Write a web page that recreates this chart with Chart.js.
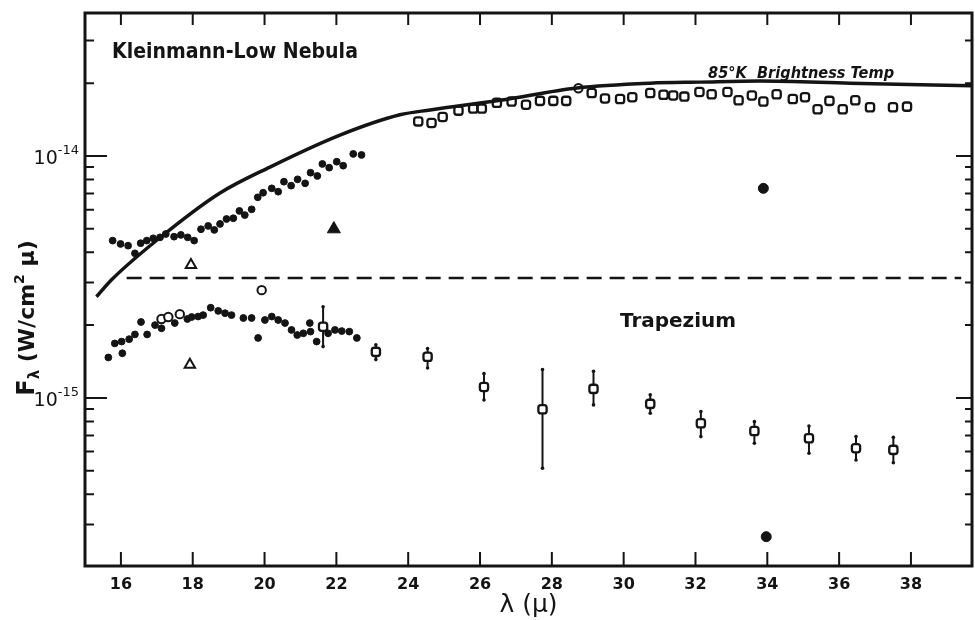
<!DOCTYPE html>
<html>
<head>
<meta charset="utf-8">
<script src="https://cdn.jsdelivr.net/npm/chart.js@4.4.1/dist/chart.umd.min.js"></script>
<style>
  html, body { margin: 0; padding: 0; background: #fff; }
</style>
</head>
<body>
<canvas id="sed" width="975" height="620"></canvas>
<script>
// ===== values (x: wavelength in microns, y: W/cm^2/micron) =====
const xTickValues = [16, 18, 20, 22, 24, 26, 28, 30, 32, 34, 36, 38];
const yMajorTicks = [1e-14, 1e-15];
const yTickExponents = ['-14', '-15'];
const yMinorTicks = [3e-14, 2e-14, 9e-15, 8e-15, 7e-15, 6e-15, 5e-15, 4e-15, 3e-15, 2e-15,
  9e-16, 8e-16, 7e-16, 6e-16, 5e-16, 4e-16, 3e-16];

// 85 K brightness temperature curve
const bbCurve = [[15.32, 2.62e-15], [15.74, 3.08e-15], [17.36, 4.95e-15], [18.76, 7.03e-15],
  [20.15, 9.0e-15], [22.1, 1.22e-14], [23.77, 1.48e-14], [24.61, 1.55e-14], [26.56, 1.7e-14],
  [28.7, 1.91e-14], [30.74, 2.0e-14], [32.13, 2.02e-14], [33.8, 2.04e-14], [36.3, 2.0e-14],
  [39.7, 1.95e-14]];

// dashed level
const dashLevel = [[16.16, 3.13e-15], [39.4, 3.13e-15]];

// Kleinmann-Low, filled dots (short wavelengths)
const klDots = [[15.77, 4.47e-15], [15.99, 4.33e-15], [16.2, 4.26e-15], [16.39, 3.96e-15],
  [16.55, 4.36e-15], [16.72, 4.47e-15], [16.9, 4.57e-15], [17.09, 4.61e-15], [17.25, 4.76e-15],
  [17.48, 4.64e-15], [17.67, 4.72e-15], [17.86, 4.61e-15], [18.04, 4.47e-15], [18.23, 4.98e-15],
  [18.43, 5.14e-15], [18.6, 4.95e-15], [18.76, 5.24e-15], [18.94, 5.49e-15], [19.13, 5.53e-15],
  [19.3, 5.93e-15], [19.45, 5.7e-15], [19.64, 6.02e-15], [19.81, 6.75e-15], [19.96, 7.05e-15],
  [20.2, 7.35e-15], [20.38, 7.12e-15], [20.54, 7.83e-15], [20.74, 7.54e-15], [20.92, 8.01e-15],
  [21.13, 7.71e-15], [21.28, 8.53e-15], [21.47, 8.27e-15], [21.61, 9.27e-15], [21.8, 8.95e-15],
  [22.01, 9.47e-15], [22.19, 9.12e-15], [22.47, 1.02e-14], [22.7, 1.01e-14]];

// Kleinmann-Low, open squares (long wavelengths)
const klSquares = [[24.28, 1.39e-14], [24.65, 1.37e-14], [24.96, 1.45e-14], [25.4, 1.54e-14],
  [25.81, 1.57e-14], [26.05, 1.57e-14], [26.47, 1.66e-14], [26.88, 1.68e-14], [27.28, 1.63e-14],
  [27.67, 1.69e-14], [28.04, 1.69e-14], [28.4, 1.69e-14], [29.11, 1.82e-14], [29.48, 1.73e-14],
  [29.9, 1.72e-14], [30.24, 1.75e-14], [30.74, 1.82e-14], [31.11, 1.79e-14], [31.38, 1.78e-14],
  [31.69, 1.76e-14], [32.11, 1.84e-14], [32.45, 1.8e-14], [32.89, 1.84e-14], [33.2, 1.7e-14],
  [33.57, 1.78e-14], [33.89, 1.68e-14], [34.26, 1.8e-14], [34.71, 1.72e-14], [35.05, 1.75e-14],
  [35.4, 1.56e-14], [35.73, 1.69e-14], [36.1, 1.56e-14], [36.45, 1.7e-14], [36.86, 1.59e-14],
  [37.5, 1.59e-14], [37.89, 1.6e-14]];

// Trapezium, filled dots
const trapDots = [[15.65, 1.47e-15], [15.83, 1.68e-15], [16.02, 1.71e-15], [16.04, 1.53e-15],
  [16.23, 1.75e-15], [16.39, 1.83e-15], [16.56, 2.06e-15], [16.73, 1.83e-15], [16.95, 2.0e-15],
  [17.13, 1.94e-15], [17.5, 2.04e-15], [17.85, 2.12e-15], [17.97, 2.16e-15], [18.15, 2.17e-15],
  [18.29, 2.2e-15], [18.5, 2.36e-15], [18.71, 2.29e-15], [18.9, 2.24e-15], [19.08, 2.2e-15],
  [19.41, 2.14e-15], [19.64, 2.14e-15], [19.82, 1.77e-15], [20.01, 2.1e-15], [20.2, 2.17e-15],
  [20.38, 2.1e-15], [20.57, 2.04e-15], [20.75, 1.91e-15], [20.91, 1.82e-15], [21.08, 1.85e-15],
  [21.26, 2.04e-15], [21.28, 1.88e-15], [21.45, 1.71e-15], [21.77, 1.85e-15], [21.96, 1.91e-15],
  [22.15, 1.89e-15], [22.36, 1.88e-15], [22.57, 1.77e-15]];

// Trapezium, open squares with error bars
const trapSquares = [[21.63, 1.97e-15], [23.1, 1.55e-15], [24.54, 1.48e-15], [26.11, 1.11e-15],
  [27.74, 8.98e-16], [29.16, 1.09e-15], [30.74, 9.45e-16], [32.15, 7.86e-16], [33.64, 7.3e-16],
  [35.16, 6.81e-16], [36.47, 6.2e-16], [37.51, 6.1e-16]];
const trapErrHigh = [2.38e-15, 1.66e-15, 1.6e-15, 1.26e-15, 1.31e-15, 1.29e-15, 1.03e-15,
  8.78e-16, 7.98e-16, 7.66e-16, 6.92e-16, 6.88e-16];
const trapErrLow = [1.63e-15, 1.44e-15, 1.33e-15, 9.81e-16, 5.12e-16, 9.36e-16, 8.65e-16,
  6.92e-16, 6.5e-16, 5.91e-16, 5.54e-16, 5.4e-16];

// single points
const openCircles = [[17.13, 2.12e-15], [17.32, 2.16e-15], [17.64, 2.22e-15], [19.92, 2.79e-15], [28.74, 1.905e-14]];
const openTriangles = [[17.95, 3.54e-15], [17.92, 1.37e-15]];
const filledTriangles = [[21.93, 4.99e-15]];
const filledCircles = [[33.89, 7.35e-15], [33.97, 2.67e-16]];

// ===== drawing =====
const INK = '#141414';
const FONT = '"DejaVu Sans", sans-serif';

const toXY = arr => arr.map(p => ({ x: p[0], y: p[1] }));

function pointSet(data, style, radius, filled, border) {
  return {
    data: toXY(data),
    showLine: false,
    pointStyle: style,
    pointRadius: radius,
    pointBorderWidth: border,
    pointBorderColor: INK,
    pointBackgroundColor: filled ? INK : '#fff',
  };
}

// draws a run of text pieces (sub/superscripts), centred or right-aligned on x
function drawRich(ctx, parts, x, y, align) {
  let total = 0;
  parts.forEach(p => {
    ctx.font = p.font;
    p.w = ctx.measureText(p.t).width;
    total += p.w;
  });
  let cx = align === 'right' ? x - total : x - total / 2;
  parts.forEach(p => {
    ctx.font = p.font;
    ctx.fillText(p.t, cx, y + (p.dy || 0));
    cx += p.w;
  });
}

const framePlugin = {
  id: 'frame',
  beforeDatasetsDraw(chart) {
    const { ctx, scales: { x, y } } = chart;
    ctx.save();
    ctx.strokeStyle = INK;
    ctx.fillStyle = INK;
    ctx.lineWidth = 2;
    trapSquares.forEach((p, i) => {
      const px = x.getPixelForValue(p[0]);
      const y1 = y.getPixelForValue(trapErrHigh[i]);
      const y2 = y.getPixelForValue(trapErrLow[i]);
      ctx.beginPath();
      ctx.moveTo(px, y1);
      ctx.lineTo(px, y2);
      ctx.stroke();
      [y1, y2].forEach(yy => {
        ctx.beginPath();
        ctx.arc(px, yy, 1.8, 0, Math.PI * 2);
        ctx.fill();
      });
    });
    ctx.restore();
  },
  afterDatasetsDraw(chart) {
    const { ctx, chartArea: a, scales: { x, y } } = chart;
    ctx.save();
    ctx.strokeStyle = INK;
    ctx.fillStyle = INK;

    // frame
    ctx.lineWidth = 3;
    ctx.strokeRect(a.left, a.top, a.right - a.left, a.bottom - a.top);

    // inward ticks
    ctx.lineWidth = 2;
    ctx.beginPath();
    xTickValues.forEach(v => {
      const px = x.getPixelForValue(v);
      ctx.moveTo(px, a.bottom); ctx.lineTo(px, a.bottom - 14);
      ctx.moveTo(px, a.top); ctx.lineTo(px, a.top + 12);
    });
    yMajorTicks.forEach(v => {
      const py = y.getPixelForValue(v);
      ctx.moveTo(a.left, py); ctx.lineTo(a.left + 22, py);
      ctx.moveTo(a.right, py); ctx.lineTo(a.right - 16, py);
    });
    yMinorTicks.forEach(v => {
      const py = y.getPixelForValue(v);
      ctx.moveTo(a.left, py); ctx.lineTo(a.left + 9, py);
      ctx.moveTo(a.right, py); ctx.lineTo(a.right - 7, py);
    });
    ctx.stroke();

    // y tick labels: 10 with a raised exponent
    ctx.textBaseline = 'alphabetic';
    ctx.textAlign = 'left';
    yMajorTicks.forEach((v, i) => {
      const py = y.getPixelForValue(v);
      drawRich(ctx, [
        { t: '10', font: '19px ' + FONT },
        { t: yTickExponents[i], font: '13px ' + FONT, dy: -10 },
      ], a.left - 6, py + 8, 'right');
    });

    // annotations
    ctx.font = 'bold 22px ' + FONT;
    ctx.fillText('Kleinmann-Low Nebula', x.getPixelForValue(15.75), y.getPixelForValue(2.54e-14), 246);
    ctx.font = 'bold 20px ' + FONT;
    ctx.fillText('Trapezium', x.getPixelForValue(29.9), y.getPixelForValue(1.965e-15), 116);
    ctx.font = 'italic bold 16px ' + FONT;
    ctx.fillText('85\u00B0K  Brightness Temp', x.getPixelForValue(32.35), y.getPixelForValue(2.1e-14), 186);

    // y-axis title, reading upward
    ctx.translate(34, 318);
    ctx.rotate(-Math.PI / 2);
    drawRich(ctx, [
      { t: 'F', font: 'bold 24px ' + FONT },
      { t: '\u03BB', font: 'bold 15px ' + FONT, dy: 5 },
      { t: ' (W/cm', font: 'bold 22px ' + FONT },
      { t: '2', font: 'bold 14px ' + FONT, dy: -10 },
      { t: ' \u03BC)', font: 'bold 22px ' + FONT },
    ], 0, 0);
    ctx.restore();
  }
};

new Chart(document.getElementById('sed'), {
  type: 'scatter',
  data: {
    datasets: [
      {
        data: toXY(bbCurve), showLine: true, pointRadius: 0, borderColor: INK,
        borderWidth: 3.5, cubicInterpolationMode: 'monotone',
      },
      {
        data: toXY(dashLevel), showLine: true, pointRadius: 0, borderColor: INK,
        borderWidth: 2.5, borderDash: [15, 8],
      },
      pointSet(klDots, 'circle', 3.4, true, 1),
      pointSet(trapDots, 'circle', 3.4, true, 1),
      pointSet(klSquares, 'rectRounded', 4.8, false, 2.3),
      pointSet(trapSquares, 'rectRounded', 4.8, false, 2.3),
      pointSet(openCircles, 'circle', 4.2, false, 2),
      pointSet(openTriangles, 'triangle', 6, false, 2),
      pointSet(filledTriangles, 'triangle', 7.5, true, 1),
      pointSet(filledCircles, 'circle', 5, true, 1),
    ],
  },
  options: {
    responsive: false,
    animation: false,
    devicePixelRatio: 1,
    layout: { autoPadding: false, padding: { top: 13, right: 3, left: 0, bottom: 0 } },
    plugins: { legend: { display: false }, tooltip: { enabled: false } },
    scales: {
      x: {
        type: 'linear',
        min: 15,
        max: 39.7,
        afterFit: s => { s.height = 54; s.paddingLeft = 0; s.paddingRight = 0; },
        afterBuildTicks: s => { s.ticks = xTickValues.map(v => ({ value: v })); },
        grid: { display: false, drawTicks: false },
        border: { display: false },
        ticks: {
          color: INK, padding: 9, autoSkip: false, maxRotation: 0,
          font: { family: FONT, size: 16, weight: 'bold' },
          callback: v => String(v),
        },
        title: {
          display: true, text: '\u03BB (\u03BC)', color: INK,
          font: { family: FONT, size: 25 }, padding: { top: 0, bottom: 0 },
        },
      },
      y: {
        type: 'logarithmic',
        min: 2.02e-16,
        max: 3.9e-14,
        afterFit: s => { s.width = 85; s.paddingTop = 0; s.paddingBottom = 0; },
        afterBuildTicks: s => { s.ticks = yMajorTicks.map(v => ({ value: v })); },
        grid: { display: false, drawTicks: false },
        border: { display: false },
        ticks: { display: false },
      },
    },
  },
  plugins: [framePlugin],
});
</script>
</body>
</html>
